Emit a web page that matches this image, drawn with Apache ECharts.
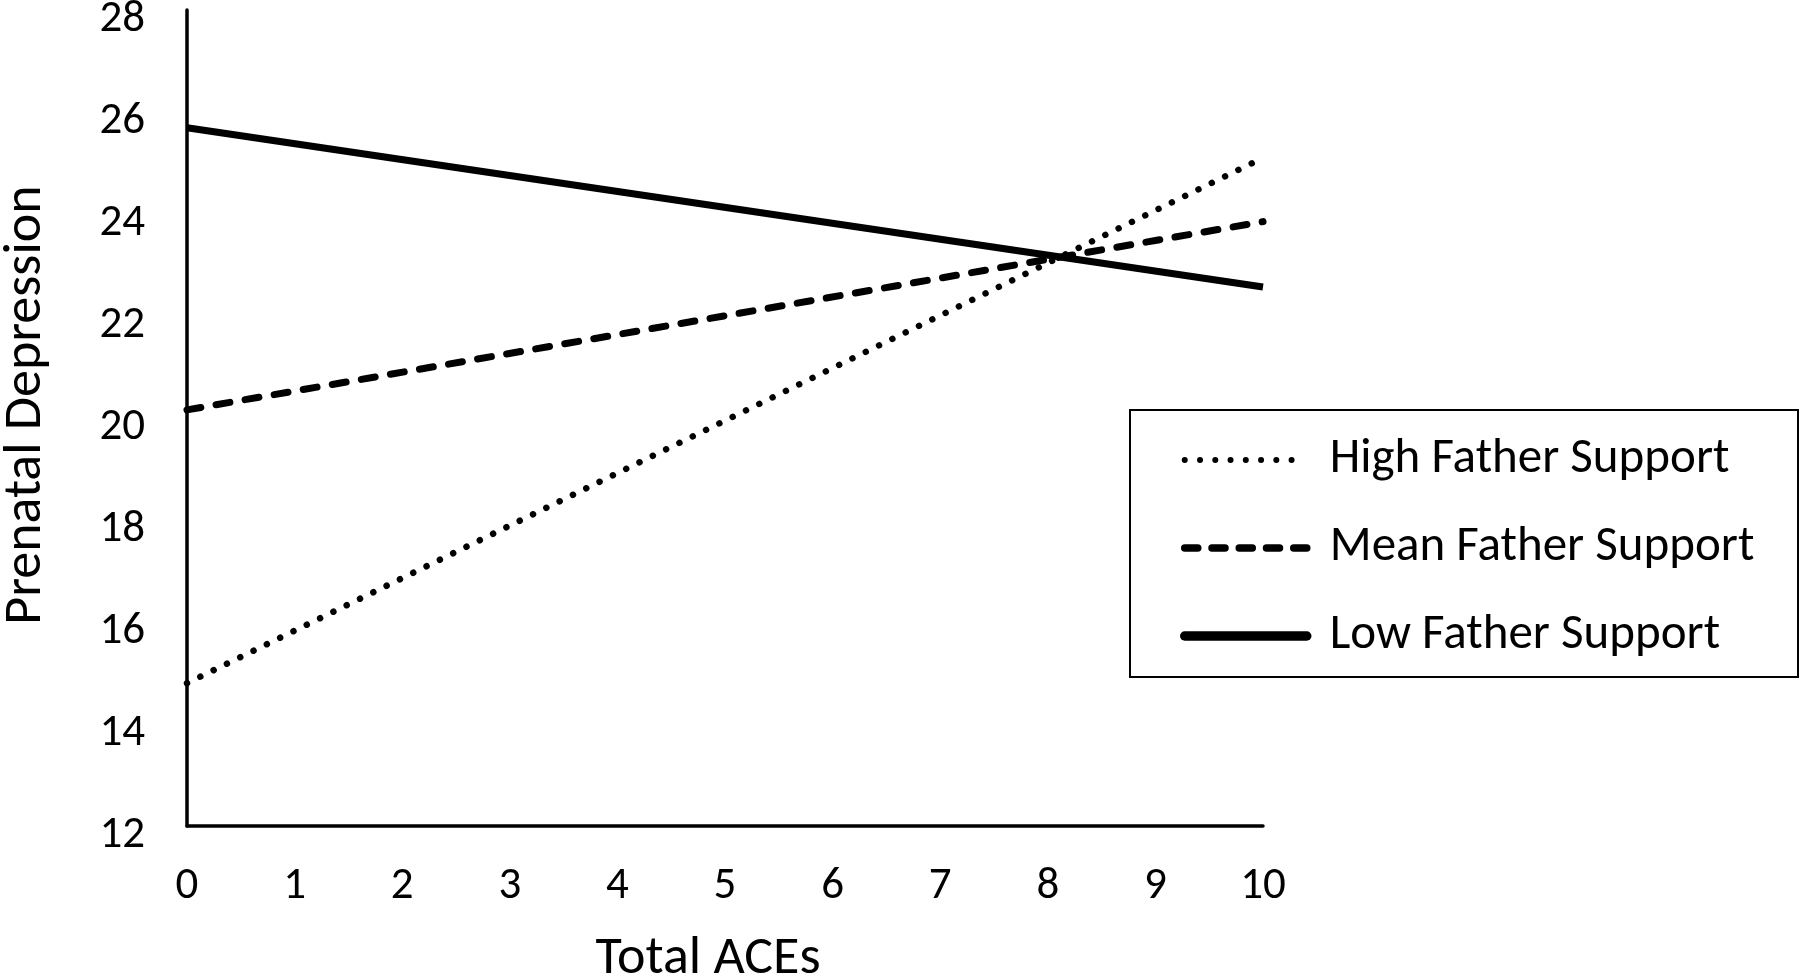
<!DOCTYPE html>
<html>
<head>
<meta charset="utf-8">
<script src="https://cdn.jsdelivr.net/npm/echarts@6/dist/echarts.min.js"></script>
<style>
html,body{margin:0;padding:0;background:#fff;}
#chart{width:1800px;height:975px;}
</style>
</head>
<body>
<div id="chart"></div>
<script>
const xCategories = [0, 10];
const xTickLabels = ['0','1','2','3','4','5','6','7','8','9','10'];
const yTickLabels = ['12','14','16','18','20','22','24','26','28'];
const seriesNames = ['High Father Support', 'Mean Father Support', 'Low Father Support'];
const highSupport = [14.8, 25.1];
const meanSupport = [20.16, 23.85];
const lowSupport = [25.69, 22.57];

const FONT = 'Carlito, Lato, sans-serif';
const chart = echarts.init(document.getElementById('chart'));

function pairs(vals){ return xCategories.map((x,i)=>[x, vals[i]]); }

const dotted = {color: '#000', width: 6.5, type: [0.01, 14.8], cap: 'round'};
const dashed = {color: '#000', width: 7, type: [14, 15.5], cap: 'round'};
const solid = {color: '#000', width: 7, type: 'solid', cap: 'butt'};

chart.setOption({
  backgroundColor: '#fff',
  animation: false,
  grid: {left: 187, right: 537, top: 10, bottom: 149, containLabel: false, outerBoundsMode: 'none'},
  xAxis: {
    type: 'value', min: 0, max: 10, interval: 1,
    axisLine: {show: true, lineStyle: {color: '#000', width: 3.5}},
    axisTick: {show: false},
    splitLine: {show: false},
    axisLabel: {color: '#000', fontFamily: FONT, fontSize: 45, lineHeight: 46, margin: 38,
      formatter: v => xTickLabels[Math.round(v)]},
    name: 'Total ACEs', nameLocation: 'middle', nameGap: 106,
    nameTextStyle: {color: '#000', fontFamily: FONT, fontSize: 54, padding: [0, 34, 0, 0]}
  },
  yAxis: {
    type: 'value', min: 12, max: 28, interval: 2,
    axisLine: {show: true, onZero: false, lineStyle: {color: '#000', width: 3.5}},
    axisTick: {show: false},
    splitLine: {show: false},
    axisLabel: {color: '#000', fontFamily: FONT, fontSize: 45, margin: 42,
      verticalAlign: 'top', lineHeight: 20,
      formatter: v => yTickLabels[Math.round((v - 12) / 2)]},
    name: 'Prenatal Depression', nameLocation: 'middle', nameGap: 134, nameRotate: 90,
    nameTextStyle: {color: '#000', fontFamily: FONT, fontSize: 54, padding: [0, 0, 0, 26]}
  },
  legend: {
    left: 1180, top: 435, orient: 'vertical', padding: 0,
    itemWidth: 122, itemHeight: 1, itemGap: 38,
    textStyle: {color: '#000', fontFamily: FONT, fontSize: 49, lineHeight: 50, padding: [0,0,0,18]},
    data: [
      {name: seriesNames[0], lineStyle: {width: 6, type: [0.01, 15.25], cap: 'round'}},
      {name: seriesNames[1], lineStyle: {width: 7.5, type: [13, 14.25], cap: 'round'}},
      {name: seriesNames[2], lineStyle: {width: 9.5, type: 'solid', cap: 'round'}}
    ]
  },
  graphic: [{
    type: 'rect', left: 1129, top: 409, z: -1,
    shape: {width: 668, height: 267},
    style: {fill: '#fff', stroke: '#000', lineWidth: 2}
  }],
  series: [
    {name: seriesNames[0], type: 'line', data: pairs(highSupport), symbol: 'none',
     lineStyle: dotted, itemStyle: {color: '#000'}},
    {name: seriesNames[1], type: 'line', data: pairs(meanSupport), symbol: 'none',
     lineStyle: dashed, itemStyle: {color: '#000'}},
    {name: seriesNames[2], type: 'line', data: pairs(lowSupport), symbol: 'none',
     lineStyle: solid, itemStyle: {color: '#000'}}
  ]
});
</script>
</body>
</html>
